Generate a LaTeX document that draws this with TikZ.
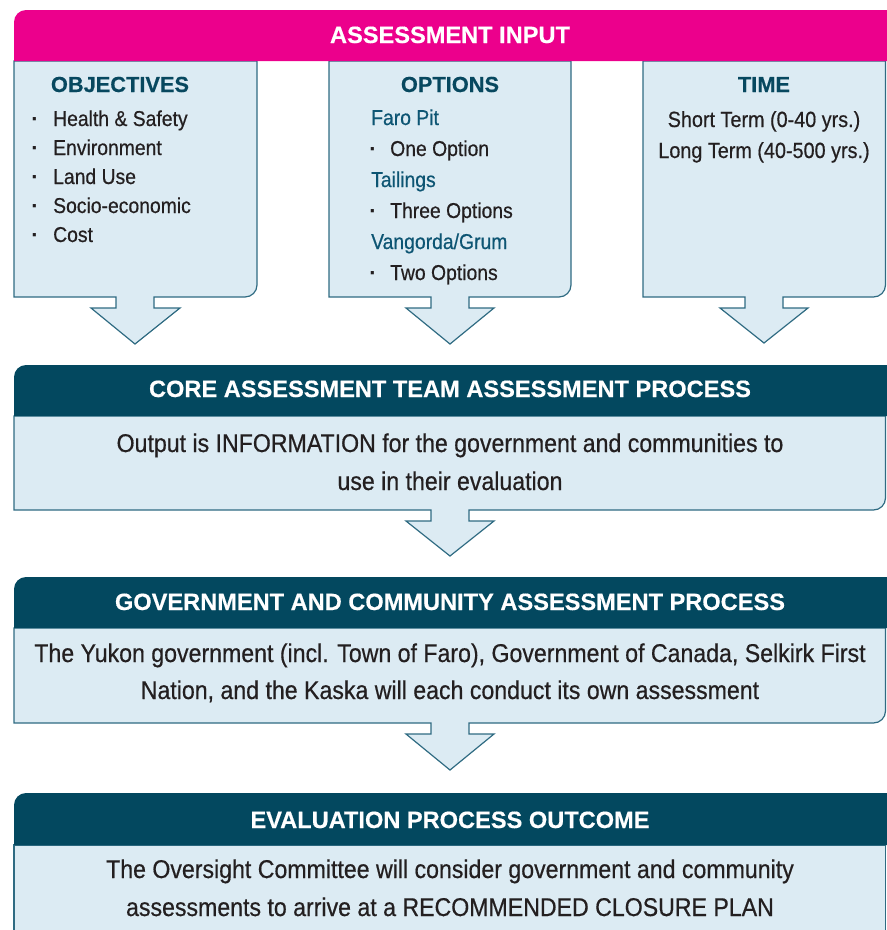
\documentclass[tikz,border=0pt]{standalone}
\usepackage{fontspec}
\setmainfont{Liberation Sans}
\newfontfamily\bfont{Liberation Sans}[FakeStretch=0.9, FakeBold=0.5]
\newfontfamily\hfont{Liberation Sans}[UprightFont=* Bold, FakeBold=0.4]
\definecolor{pinkbar}{HTML}{EC008C}
\definecolor{hdr}{HTML}{03485F}
\definecolor{boxfill}{HTML}{DCEBF3}
\definecolor{boxline}{HTML}{2F6B82}
\definecolor{ttlc}{HTML}{07485F}
\definecolor{subc}{HTML}{0D5573}
\definecolor{txtc}{HTML}{231F20}
\tikzset{
  lbox/.style={fill=boxfill, draw=boxline, line width=1.2pt, line join=miter},
  hbar/.style={fill=hdr},
  htext/.style={text=white, inner sep=0pt, anchor=base, font=\hfont\fontsize{23.6}{26}\selectfont},
  ttl/.style={text=ttlc, inner sep=0pt, anchor=base, font=\hfont\fontsize{21.8}{24}\selectfont},
  itm/.style={text=txtc, inner sep=0pt, anchor=base west, font=\bfont\fontsize{21.5}{24}\selectfont},
  bul/.style={text=txtc, inner sep=0pt, anchor=base, font=\bfseries\fontsize{22}{24}\selectfont},
  subl/.style={text=subc, inner sep=0pt, anchor=base west, font=\bfont\fontsize{21.5}{24}\selectfont},
  ctr/.style={text=txtc, inner sep=0pt, anchor=base, font=\bfont\fontsize{22}{24}\selectfont},
  big/.style={text=txtc, inner sep=0pt, anchor=base, font=\bfont\fontsize{25.7}{30}\selectfont},
}
\begin{document}
\begin{tikzpicture}[x=1pt,y=-1pt]
\useasboundingbox (0,0) rectangle (887,930);
\clip (0,0) rectangle (887,930);

% input boxes with arrows
\draw[lbox] (14,61) -- (14,297) -- (116,297) -- (116,308) -- (91,308) -- (135,344) -- (180,308) -- (154,308) -- (154,297) [rounded corners=12pt] -- (257,297) [sharp corners] -- (257,61) -- cycle;
\draw[lbox] (329,61) -- (329,297) -- (431,297) -- (431,308) -- (406,308) -- (450,344) -- (494,308) -- (469,308) -- (469,297) [rounded corners=12pt] -- (571,297) [sharp corners] -- (571,61) -- cycle;
\draw[lbox] (643,61) -- (643,297) -- (745,297) -- (745,308) -- (720,308) -- (764,343) -- (808,308) -- (783,308) -- (783,297) [rounded corners=12pt] -- (885.5,297) [sharp corners] -- (885.5,61) -- cycle;

% pink bar
\fill[pinkbar] (14,61) [rounded corners=12pt] -- (14,10) [sharp corners] -- (890,10) -- (890,61) -- cycle;
\node[htext] (input) at (450,43) {ASSESSMENT INPUT};

% objectives
\node[ttl] (obj) at (120,92) {OBJECTIVES};
\node[bul] (b1) at (35,126) {·};
\node[itm] (o1) at (53,126) {Health \& Safety};
\node[bul] (b2) at (35,155) {·};
\node[itm] (o2) at (53,155) {Environment};
\node[bul] (b3) at (35,184) {·};
\node[itm] (o3) at (53,184) {Land Use};
\node[bul] (b4) at (35,213) {·};
\node[itm] (o4) at (53,213) {Socio-economic};
\node[bul] (b5) at (35,242) {·};
\node[itm] (o5) at (53,242) {Cost};

% options
\node[ttl] (opt) at (450,92) {OPTIONS};
\node[subl] (s1) at (371,125) {Faro Pit};
\node[bul] (c1) at (373,156) {·};
\node[itm] (p1) at (390,156) {One Option};
\node[subl] (s2) at (371,187) {Tailings};
\node[bul] (c2) at (373,218) {·};
\node[itm] (p2) at (390,218) {Three Options};
\node[subl] (s3) at (371,249) {Vangorda/Grum};
\node[bul] (c3) at (373,280) {·};
\node[itm] (p3) at (390,280) {Two Options};

% time
\node[ttl] (time) at (764,92) {TIME};
\node[ctr] (t1) at (764,127) {Short Term (0-40 yrs.)};
\node[ctr] (t2) at (764,158) {Long Term (40-500 yrs.)};

% core
\draw[lbox] (14,416) -- (14,510) -- (431,510) -- (431,521) -- (406,521) -- (450,556) -- (494,521) -- (469,521) -- (469,510) [rounded corners=12pt] -- (885.5,510) [sharp corners] -- (885.5,416) -- cycle;
\fill[hbar] (14,416) [rounded corners=12pt] -- (14,365) [sharp corners] -- (890,365) -- (890,416) -- cycle;
\node[htext] (coreh) at (450,397) {CORE ASSESSMENT TEAM ASSESSMENT PROCESS};
\node[big] (core1) at (450,452) {Output is INFORMATION for the government and communities to};
\node[big] (core2) at (450,490) {use in their evaluation};

% government
\draw[lbox] (14,628) -- (14,723) -- (431,723) -- (431,734) -- (406,734) -- (450,770) -- (494,734) -- (469,734) -- (469,723) [rounded corners=12pt] -- (885.5,723) [sharp corners] -- (885.5,628) -- cycle;
\fill[hbar] (14,628) [rounded corners=12pt] -- (14,577) [sharp corners] -- (890,577) -- (890,628) -- cycle;
\node[htext] (govh) at (450,610) {GOVERNMENT AND COMMUNITY ASSESSMENT PROCESS};
\node[big] (gov1) at (450,662) {The Yukon government (incl. Town of Faro), Government of Canada, Selkirk First};
\node[big] (gov2) at (450,699) {Nation, and the Kaska will each conduct its own assessment};

% evaluation
\draw[lbox] (14,845) -- (14,945) -- (885.5,945) -- (885.5,845) -- cycle;
\fill[hbar] (14,845) [rounded corners=12pt] -- (14,793) [sharp corners] -- (890,793) -- (890,845) -- cycle;
\node[htext] (evalh) at (450,828) {EVALUATION PROCESS OUTCOME};
\node[big] (eval1) at (450,878) {The Oversight Committee will consider government and community};
\node[big] (eval2) at (450,916) {assessments to arrive at a RECOMMENDED CLOSURE PLAN};
\end{tikzpicture}
\end{document}
